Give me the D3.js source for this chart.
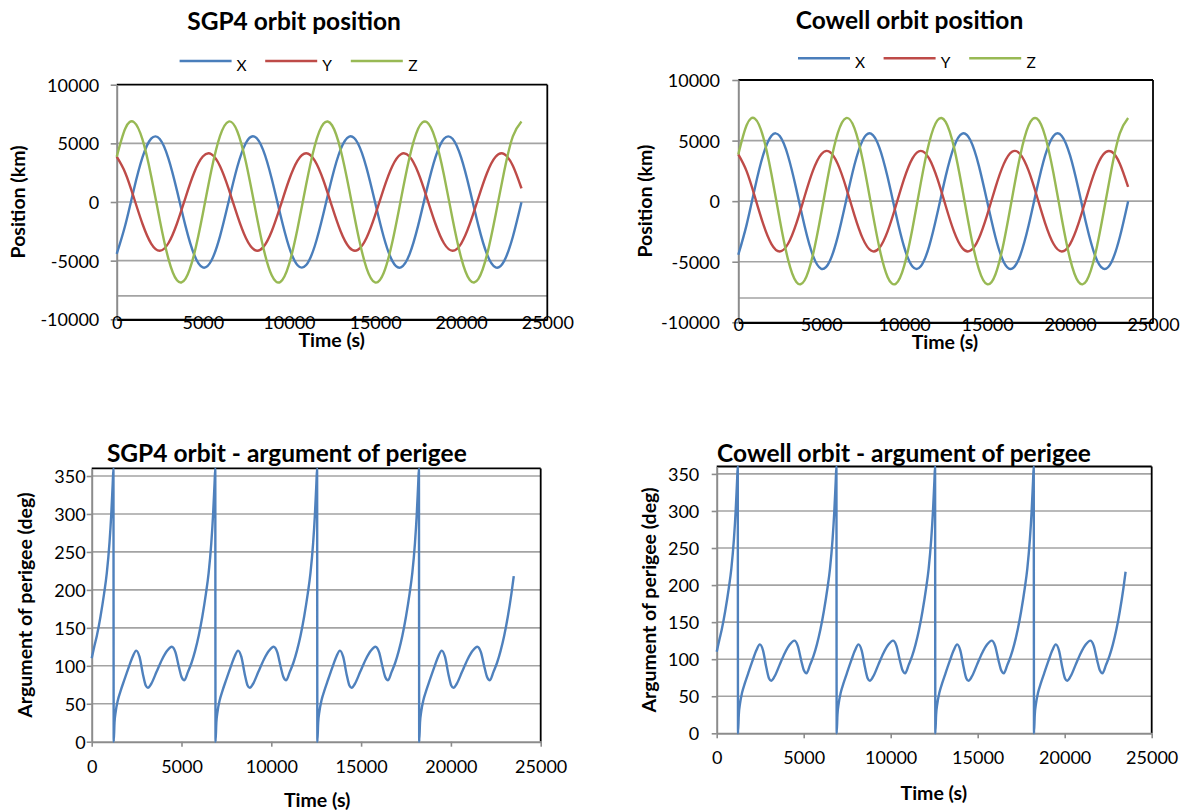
<!DOCTYPE html>
<html>
<head>
<meta charset="utf-8">
<script src="https://cdn.jsdelivr.net/npm/d3@7"></script>
<style>
  body { margin: 0; background: #fff; }
  svg { font-family: Lato, "Open Sans", sans-serif; }
</style>
</head>
<body>
<svg id="chart" width="1191" height="811"></svg>
<script>

/**********************
***** DATA        *****
**********************/

const seriesNames = ["X", "Y", "Z"];
const seriesColors = ["#4A7EBB", "#BE4B48", "#98B954"];

const timeTicks = [0, 5000, 10000, 15000, 20000, 25000];
const positionTicks = [-10000, -5000, 0, 5000, 10000];
const positionGrid = [-8000, -5000, 0, 5000];
const perigeeTicks = [0, 50, 100, 150, 200, 250, 300, 350];
const perigeeGrid = [50, 100, 150, 200, 250, 300, 350];

// time samples (s) for the position plots
const posTime = [0, 500, 1000, 1500, 2000, 2500, 3000, 3500, 4000, 4500, 5000, 5500,
    6000, 6500, 7000, 7500, 8000, 8500, 9000, 9500, 10000, 10500, 11000, 11500,
    12000, 12500, 13000, 13500, 14000, 14500, 15000, 15500, 16000, 16500, 17000, 17500,
    18000, 18500, 19000, 19500, 20000, 20500, 21000, 21500, 22000, 22500, 23000, 23500];

// position (km)
const sgp4X = [-4427, -1958, 1094, 3821, 5403, 5369, 3728, 972, -2075, -4501, -5581, -4991,
    -2907, 47, 2985, 5032, 5572, 4446, 1988, -1064, -3798, -5395, -5378, -3751,
    -1003, 2046, 4483, 5578, 5005, 2934, -16, -2959, -5018, -5575, -4463, -2017,
    1033, 3774, 5386, 5387, 3774, 1034, -2016, -4464, -5575, -5019, -2960, -17];
const sgp4Y = [3859, 2479, 356, -1873, -3541, -4150, -3517, -1831, 402, 2515, 3876, 4077,
    3056, 1124, -1146, -3073, -4081, -3868, -2497, -379, 1853, 3529, 4150, 3529,
    1853, -378, -2496, -3867, -4081, -3074, -1147, 1124, 3056, 4077, 3876, 2515,
    403, -1831, -3517, -4150, -3542, -1873, 355, 2478, 3859, 4085, 3088, 1170];
const sgp4Z = [3855, 6270, 6809, 5310, 2224, -1529, -4824, -6676, -6530, -4430, -1004, 2721,
    5633, 6860, 6033, 3403, -247, -3823, -6254, -6814, -5337, -2260, 1490, 4797,
    6667, 6542, 4460, 1044, -2685, -5611, -6857, -6051, -3434, 209, 3790, 6238,
    6819, 5359, 2297, -1453, -4768, -6657, -6554, -4489, -1082, 2649, 5588, 6855];

const cowellX = [-4427, -1958, 1094, 3821, 5403, 5369, 3728, 972, -2075, -4501, -5581, -4991,
    -2907, 47, 2985, 5032, 5572, 4446, 1988, -1064, -3798, -5395, -5378, -3751,
    -1003, 2046, 4483, 5578, 5005, 2934, -16, -2959, -5018, -5575, -4463, -2017,
    1033, 3774, 5386, 5387, 3774, 1034, -2016, -4464, -5575, -5019, -2960, -17];
const cowellY = [3859, 2479, 356, -1873, -3541, -4150, -3517, -1831, 402, 2515, 3876, 4077,
    3056, 1124, -1146, -3073, -4081, -3868, -2497, -379, 1853, 3529, 4150, 3529,
    1853, -378, -2496, -3867, -4081, -3074, -1147, 1124, 3056, 4077, 3876, 2515,
    403, -1831, -3517, -4150, -3542, -1873, 355, 2478, 3859, 4085, 3088, 1170];
const cowellZ = [3855, 6270, 6809, 5310, 2224, -1529, -4824, -6676, -6530, -4430, -1004, 2721,
    5633, 6860, 6033, 3403, -247, -3823, -6254, -6814, -5337, -2260, 1490, 4797,
    6667, 6542, 4460, 1044, -2685, -5611, -6857, -6051, -3434, 209, 3790, 6238,
    6819, 5359, 2297, -1453, -4768, -6657, -6554, -4489, -1082, 2649, 5588, 6855];

// time samples (s) for the argument of perigee plots
const perigeeTime = [0, 150, 290, 490, 690, 840, 990, 1090, 1170, 1210,
    1225, 1270, 1340, 1460, 1610, 1810, 2060, 2280, 2480, 2660, 2860, 3010, 3130, 3310, 3610, 3910,
    4210, 4460, 4660, 4860, 5010, 5160, 5360, 5560, 5760, 5960, 6160, 6360, 6510, 6660, 6760, 6840, 6880,
    6895, 6940, 7010, 7130, 7280, 7480, 7730, 7950, 8150, 8330, 8530, 8680, 8800, 8980, 9280, 9580,
    9880, 10130, 10330, 10530, 10680, 10830, 11030, 11230, 11430, 11630, 11830, 12030, 12180, 12330, 12430, 12510, 12550,
    12565, 12610, 12680, 12800, 12950, 13150, 13400, 13620, 13820, 14000, 14200, 14350, 14470, 14650, 14950, 15250,
    15550, 15800, 16000, 16200, 16350, 16500, 16700, 16900, 17100, 17300, 17500, 17700, 17850, 18000, 18100, 18180, 18220,
    18235, 18280, 18350, 18470, 18620, 18820, 19070, 19290, 19490, 19670, 19870, 20020, 20140, 20320, 20620, 20920,
    21220, 21470, 21670, 21870, 22020, 22170, 22370, 22570, 22770, 22970, 23170, 23370, 23500];

// argument of perigee (deg)
const sgp4Perigee = [110, 126, 140, 165, 195, 222, 262, 300, 340, 360,
    0, 25, 40, 55, 67, 81, 98, 112, 120, 112, 88, 74, 71, 76, 92, 108,
    120, 125, 118, 98, 85, 81, 92, 104, 120, 140, 165, 195, 222, 262, 300, 340, 360,
    0, 25, 40, 55, 67, 81, 98, 112, 120, 112, 88, 74, 71, 76, 92, 108,
    120, 125, 118, 98, 85, 81, 92, 104, 120, 140, 165, 195, 222, 262, 300, 340, 360,
    0, 25, 40, 55, 67, 81, 98, 112, 120, 112, 88, 74, 71, 76, 92, 108,
    120, 125, 118, 98, 85, 81, 92, 104, 120, 140, 165, 195, 222, 262, 300, 340, 360,
    0, 25, 40, 55, 67, 81, 98, 112, 120, 112, 88, 74, 71, 76, 92, 108,
    120, 125, 118, 98, 85, 81, 92, 104, 120, 140, 165, 195, 218];
const cowellPerigee = [110, 126, 140, 165, 195, 222, 262, 300, 340, 360,
    0, 25, 40, 55, 67, 81, 98, 112, 120, 112, 88, 74, 71, 76, 92, 108,
    120, 125, 118, 98, 85, 81, 92, 104, 120, 140, 165, 195, 222, 262, 300, 340, 360,
    0, 25, 40, 55, 67, 81, 98, 112, 120, 112, 88, 74, 71, 76, 92, 108,
    120, 125, 118, 98, 85, 81, 92, 104, 120, 140, 165, 195, 222, 262, 300, 340, 360,
    0, 25, 40, 55, 67, 81, 98, 112, 120, 112, 88, 74, 71, 76, 92, 108,
    120, 125, 118, 98, 85, 81, 92, 104, 120, 140, 165, 195, 222, 262, 300, 340, 360,
    0, 25, 40, 55, 67, 81, 98, 112, 120, 112, 88, 74, 71, 76, 92, 108,
    120, 125, 118, 98, 85, 81, 92, 104, 120, 140, 165, 195, 218];


/**********************
***** BASIC SETUP *****
**********************/

const svg = d3.select("#chart");

const GRID = "#A3A3A3";
const AXIS_GRAY = "#8C8C8C";
const TICK_FONT = 18;
const AXIS_FONT = 19.5;
const TITLE_FONT = 24.5;
const LEGEND_FONT = 15.5;

// plain integers, hyphen minus, no thousands separator (like the original)
const plainFormat = d => String(d);

const panels = [
    {title: "SGP4 orbit position", kind: "position", time: posTime, series: [sgp4X, sgp4Y, sgp4Z],
     left: 116.7, right: 547.3, top: 84.7, bottom: 319.3,
     titleX: 294, titleY: 29.5, legendX: 179.6, legendY: 61, legendTextY: 71,
     yTitle: "Position (km)", yTitleX: 18.3, yTickLen: 6, yPad: 11.4,
     xTitleX: 331.7, xTitleY: 347, xLabelY: 322.7},
    {title: "Cowell orbit position", kind: "position", time: posTime, series: [cowellX, cowellY, cowellZ],
     left: 738.3, right: 1153, top: 80, bottom: 322.3,
     titleX: 909.5, titleY: 29, legendX: 798, legendY: 58.3, legendTextY: 68.3,
     yTitle: "Position (km)", yTitleX: 645, yTickLen: 6, yPad: 12.3,
     xTitleX: 944.9, xTitleY: 348.7, xLabelY: 325},
    {title: "SGP4 orbit - argument of perigee", kind: "perigee", time: perigeeTime, series: [sgp4Perigee],
     left: 91.7, right: 540.7, top: 468.4, bottom: 741.7,
     titleX: 286.8, titleY: 461.5,
     yTitle: "Argument of perigee (deg)", yTitleX: 24.5, yTickLen: 5, yPad: 1,
     xTitleX: 317.2, xTitleY: 807, xLabelY: 767},
    {title: "Cowell orbit - argument of perigee", kind: "perigee", time: perigeeTime, series: [cowellPerigee],
     left: 716.7, right: 1151.7, top: 466.5, bottom: 733.3,
     titleX: 904, titleY: 461.5,
     yTitle: "Argument of perigee (deg)", yTitleX: 649, yTickLen: 5, yPad: 12.4,
     xTitleX: 933.8, xTitleY: 800.3, xLabelY: 758}
];

panels.forEach(drawPanel);


function drawPanel(p) {

    const g = svg.append("g");
    const isPos = p.kind === "position";

    /***********************
    ***** X & Y SCALES *****
    ***********************/

    const xScale = d3.scaleLinear()
        .domain([0, 25000])
        .range([p.left, p.right]);

    const yScale = d3.scaleLinear()
        .domain(isPos ? [-10000, 10000] : [0, 360])
        .range([p.bottom, p.top]);

    /*******************
    ***** GRIDLINES *****
    *******************/

    g.selectAll(".grid")
        .data(isPos ? positionGrid : perigeeGrid)
        .join("line")
        .attr("class", "grid")
        .attr("x1", p.left)
        .attr("x2", p.right)
        .attr("y1", d => yScale(d))
        .attr("y2", d => yScale(d))
        .attr("stroke", GRID)
        .attr("stroke-width", 1.6);

    // plot border: black on top and right
    const yMax = yScale.domain()[1], yMin = yScale.domain()[0];
    g.append("line")
        .attr("x1", p.left).attr("x2", p.right)
        .attr("y1", yScale(yMax)).attr("y2", yScale(yMax))
        .attr("stroke", "#000").attr("stroke-width", 1.8);
    g.append("line")
        .attr("x1", p.right).attr("x2", p.right)
        .attr("y1", yScale(yMax)).attr("y2", yScale(yMin) + (isPos ? 1 : 0))
        .attr("stroke", "#000").attr("stroke-width", 1.8);

    /****************
    ***** Y AXIS *****
    ****************/

    const yAxis = g.append("g")
        .attr("transform", `translate(${p.left},0)`)
        .call(d3.axisLeft(yScale)
            .tickValues(isPos ? positionTicks : perigeeTicks)
            .tickFormat(plainFormat)
            .tickSize(p.yTickLen)
            .tickSizeOuter(0)
            .tickPadding(p.yPad));
    yAxis.attr("font-family", null).attr("font-size", null);
    yAxis.select(".domain").attr("stroke", AXIS_GRAY).attr("stroke-width", 2);
    yAxis.selectAll(".tick line").attr("stroke", AXIS_GRAY).attr("stroke-width", 1.6);
    yAxis.selectAll(".tick text")
        .attr("font-size", TICK_FONT)
        .attr("fill", "#000")
        .attr("dy", "0.36em");

    /****************
    ***** X AXIS *****
    ****************/

    const axisY = yScale(yMin);
    const xAxis = g.append("g")
        .attr("transform", `translate(0,${axisY})`)
        .call(d3.axisBottom(xScale)
            .tickValues(timeTicks)
            .tickFormat(plainFormat)
            .tickSize(isPos ? 0 : 5)
            .tickSizeOuter(0));
    xAxis.attr("font-family", null).attr("font-size", null);
    xAxis.select(".domain")
        .attr("stroke", isPos ? "#000" : AXIS_GRAY)
        .attr("stroke-width", isPos ? 2.2 : 2);
    xAxis.selectAll(".tick line").attr("stroke", AXIS_GRAY).attr("stroke-width", 1.6);
    xAxis.selectAll(".tick text")
        .attr("font-size", TICK_FONT)
        .attr("fill", "#000")
        .attr("y", p.xLabelY - axisY)
        .attr("dy", "0.36em");

    /******************
    ***** LINES *****
    ******************/

    p.series.forEach((vals, i) => {
        const line = d3.line()
            .x((d, j) => xScale(p.time[j]))
            .y(d => yScale(d))
            .curve(isPos ? d3.curveNatural : d3.curveMonotoneX);

        g.append("path")
            .datum(vals)
            .attr("d", line)
            .attr("fill", "none")
            .attr("stroke", isPos ? seriesColors[i] : "#4F81BD")
            .attr("stroke-width", 2.4)
            .attr("stroke-linejoin", "round");
    });

    /*************************
    ***** TITLES, LEGEND *****
    *************************/

    g.append("text")
        .attr("x", p.titleX)
        .attr("y", p.titleY)
        .attr("text-anchor", "middle")
        .attr("font-weight", "bold")
        .attr("font-size", TITLE_FONT)
        .text(p.title);

    g.append("text")
        .attr("x", p.xTitleX)
        .attr("y", p.xTitleY)
        .attr("text-anchor", "middle")
        .attr("font-weight", "bold")
        .attr("font-size", AXIS_FONT)
        .text("Time (s)");

    g.append("text")
        .attr("transform", `translate(${p.yTitleX},${(p.top + p.bottom) / 2}) rotate(-90)`)
        .attr("text-anchor", "middle")
        .attr("dy", "0.36em")
        .attr("font-weight", "bold")
        .attr("font-size", AXIS_FONT)
        .text(p.yTitle);

    if (isPos) {
        const legend = g.selectAll(".legendItem")
            .data(seriesNames)
            .join("g")
            .attr("transform", (d, i) => `translate(${p.legendX + i * 85.6},0)`);

        legend.append("line")
            .attr("x1", 0).attr("x2", 52)
            .attr("y1", p.legendY).attr("y2", p.legendY)
            .attr("stroke", (d, i) => seriesColors[i])
            .attr("stroke-width", 2.4);

        legend.append("text")
            .attr("x", 62)
            .attr("y", p.legendTextY)
            .attr("text-anchor", "middle")
            .attr("font-size", LEGEND_FONT)
            .text(d => d);
    }
}

</script>
</body>
</html>
